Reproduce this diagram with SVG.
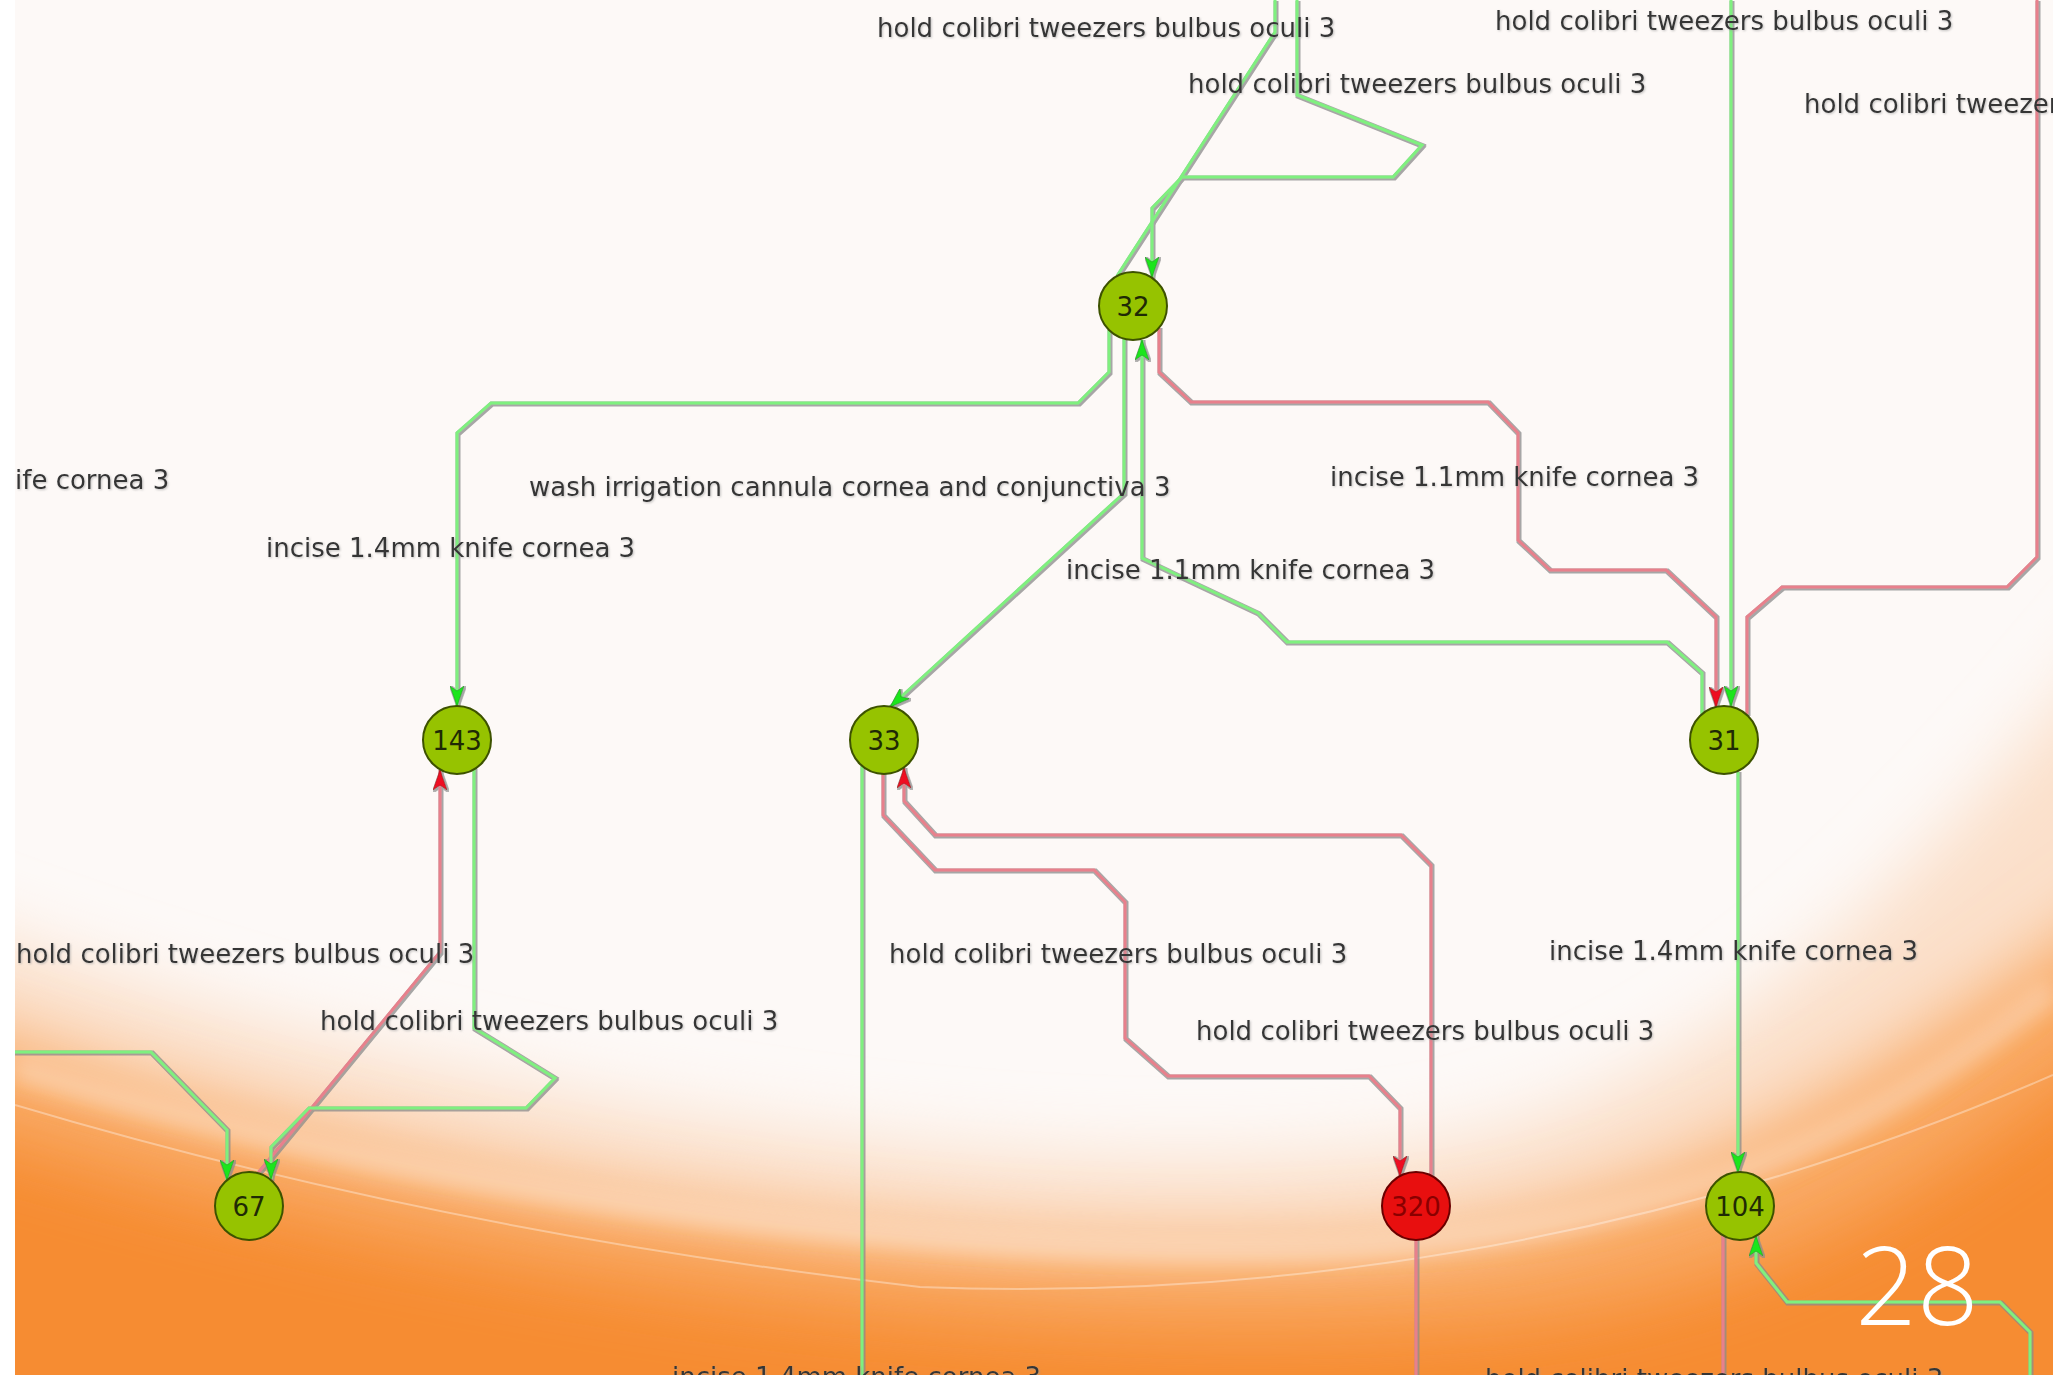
<svg xmlns="http://www.w3.org/2000/svg" width="2060" height="1375" viewBox="0 0 2060 1375">
<style>
.lbl{font-family:"DejaVu Sans","Liberation Sans",sans-serif;font-size:26px;fill:#363636}
.num{font-family:"DejaVu Sans","Liberation Sans",sans-serif;font-size:26px;fill:#1f2a05;text-anchor:middle}
.node{fill:#96c300;stroke:#3d5200;stroke-width:2}
.bad{fill:#e80f0f;stroke:#6a0000;stroke-width:2}
.g{fill:none;stroke:#7ff07f;stroke-width:3;stroke-linejoin:miter}
.r{fill:none;stroke:#e8808c;stroke-width:3;stroke-linejoin:miter}
.ga{marker-end:url(#ag)}
.ra{marker-end:url(#ar)}
</style>
<defs>
<marker id="ag" viewBox="0 0 20 14" refX="20" refY="7" markerWidth="20" markerHeight="14" markerUnits="userSpaceOnUse" orient="auto">
<path d="M0,0 L20,7 L0,14 L5,7 Z" fill="#1fe51f" stroke="#139913" stroke-width="0.6"/>
</marker>
<marker id="ar" viewBox="0 0 20 14" refX="20" refY="7" markerWidth="20" markerHeight="14" markerUnits="userSpaceOnUse" orient="auto">
<path d="M0,0 L20,7 L0,14 L5,7 Z" fill="#ee1122" stroke="#990010" stroke-width="0.6"/>
</marker>
<filter id="soft" filterUnits="userSpaceOnUse" x="-200" y="0" width="2500" height="1600">
<feGaussianBlur stdDeviation="35"/>
</filter>
<filter id="soft2" filterUnits="userSpaceOnUse" x="-200" y="0" width="2500" height="1600">
<feGaussianBlur stdDeviation="10"/>
</filter>
<filter id="halo" filterUnits="userSpaceOnUse" x="0" y="0" width="2060" height="1375">
<feMorphology in="SourceAlpha" operator="dilate" radius="1" result="d"/>
<feOffset in="d" dx="0.6" dy="1" result="o"/>
<feFlood flood-color="#8a8a8a" flood-opacity="0.75"/>
<feComposite in2="o" operator="in" result="s"/>
<feMerge><feMergeNode in="s"/><feMergeNode in="SourceGraphic"/></feMerge>
</filter>
<filter id="tsh" filterUnits="userSpaceOnUse" x="0" y="0" width="2060" height="1400">
<feGaussianBlur in="SourceAlpha" stdDeviation="1"/>
<feOffset dx="1" dy="1" result="b"/>
<feFlood flood-color="#999" flood-opacity="0.6"/>
<feComposite in2="b" operator="in" result="s"/>
<feMerge><feMergeNode in="s"/><feMergeNode in="SourceGraphic"/></feMerge>
</filter>
<clipPath id="slide"><rect x="15" y="0" width="2038" height="1375"/></clipPath>
</defs>

<rect x="0" y="0" width="2060" height="1375" fill="#ffffff"/>
<g id="background" clip-path="url(#slide)">
<rect x="15" y="0" width="2038" height="1375" fill="#fdf9f7"/>
<path d="M-100,900 C300,1060 900,1200 1400,1150 C1700,1110 1900,900 2150,600 L2150,1500 L-100,1500 Z" fill="#fbe0cb" filter="url(#soft)"/>
<path d="M-100,1000 C300,1160 900,1280 1400,1240 C1700,1210 1900,1060 2150,880 L2150,1500 L-100,1500 Z" fill="#f9a862" filter="url(#soft)"/>
<path d="M-100,1110 C400,1270 1000,1360 1500,1320 C1800,1290 1950,1170 2150,1020 L2150,1500 L-100,1500 Z" fill="#f68c32" filter="url(#soft)"/>
<path d="M15,1070 C400,1190 900,1260 1300,1250 C1700,1240 1900,1110 2053,990" fill="none" stroke="#ffffff" stroke-opacity="0.3" stroke-width="24" filter="url(#soft2)"/>
<path d="M15,1105 C300,1190 600,1250 920,1287 C1250,1300 1650,1250 2053,1075" fill="none" stroke="#ffffff" stroke-opacity="0.35" stroke-width="2"/>
</g>

<g id="connectors" filter="url(#halo)">
<path class="g ga" d="M1109,330 L1109,372 L1078,403 L491,403 L457,433 L457,706"/>
<path class="g ga" d="M1124,331 L1124,493 L890,707"/>
<path class="g ga" d="M1702,714 L1702,673 L1667,642 L1287,642 L1258,613 L1188,580 L1142,558 L1142,340"/>
<path class="r ra" d="M1159,328 L1159,372 L1191,402 L1488,402 L1518,433 L1518,540 L1550,570 L1666,570 L1716,617 L1716,707"/>
<path class="g ga" d="M1731,0 L1731,706"/>
<path class="r" d="M1747,714 L1747,617 L1782,587 L2007,587 L2037,557 L2037,0"/>
<path class="g ga" d="M1738,772 L1738,1172"/>
<path class="g ga" d="M1297,0 L1297,95 L1422,145 L1393,177 L1182,177 L1152,208 L1152,277"/>
<path class="g" d="M1117,276 L1275,32 L1275,0"/>
<path class="r ra" d="M883,774 L883,815 L935,870 L1094,870 L1125,902 L1125,1038 L1168,1076 L1369,1076 L1400,1108 L1400,1176"/>
<path class="r ra" d="M1431,1176 L1431,865 L1401,835 L935,835 L904,801 L904,768"/>
<path class="g" d="M862,766 L862,1375"/>
<path class="r" d="M1416,1240 L1416,1375"/>
<path class="r" d="M1723,1235 L1723,1375"/>
<path class="g ga" d="M2030,1375 L2030,1332 L2000,1302 L1787,1302 L1756,1263 L1756,1236"/>
<path class="r ra" d="M258,1173 L440,952 L440,770"/>
<path class="g ga" d="M474,769 L474,1028 L555,1078 L526,1108 L309,1108 L271,1147 L271,1179"/>
<path class="g ga" d="M15,1052 L151,1052 L227,1130 L227,1180"/>
</g>

<g id="labels" clip-path="url(#slide)" filter="url(#tsh)">
<text class="lbl" x="877" y="37">hold colibri tweezers bulbus oculi 3</text>
<text class="lbl" x="1495" y="30">hold colibri tweezers bulbus oculi 3</text>
<text class="lbl" x="1188" y="93">hold colibri tweezers bulbus oculi 3</text>
<text class="lbl" x="1804" y="113">hold colibri tweezer</text>
<text class="lbl" x="15" y="489">ife cornea 3</text>
<text class="lbl" x="529" y="496">wash irrigation cannula cornea and conjunctiva 3</text>
<text class="lbl" x="266" y="557">incise 1.4mm knife cornea 3</text>
<text class="lbl" x="1330" y="486">incise 1.1mm knife cornea 3</text>
<text class="lbl" x="1066" y="579">incise 1.1mm knife cornea 3</text>
<text class="lbl" x="16" y="963">hold colibri tweezers bulbus oculi 3</text>
<text class="lbl" x="320" y="1030">hold colibri tweezers bulbus oculi 3</text>
<text class="lbl" x="889" y="963">hold colibri tweezers bulbus oculi 3</text>
<text class="lbl" x="1196" y="1040">hold colibri tweezers bulbus oculi 3</text>
<text class="lbl" x="1549" y="960">incise 1.4mm knife cornea 3</text>
<text class="lbl" x="672" y="1386">incise 1.4mm knife cornea 3</text>
<text class="lbl" x="1485" y="1388">hold colibri tweezers bulbus oculi 3</text>
</g>

<g id="node-32"><circle class="node" cx="1133" cy="306" r="34"/><text class="num" x="1133" y="316">32</text></g>
<g id="node-143"><circle class="node" cx="457" cy="740" r="34"/><text class="num" x="457" y="750">143</text></g>
<g id="node-33"><circle class="node" cx="884" cy="740" r="34"/><text class="num" x="884" y="750">33</text></g>
<g id="node-31"><circle class="node" cx="1724" cy="740" r="34"/><text class="num" x="1724" y="750">31</text></g>
<g id="node-67"><circle class="node" cx="249" cy="1206" r="34"/><text class="num" x="249" y="1216">67</text></g>
<g id="node-320"><circle class="bad" cx="1416" cy="1206" r="34"/><text class="num" x="1416" y="1216" style="fill:#8a0000">320</text></g>
<g id="node-104"><circle class="node" cx="1740" cy="1206" r="34"/><text class="num" x="1740" y="1216">104</text></g>

<text id="slide-number" x="1917" y="1325" text-anchor="middle" style="font-family:'Open Sans','Liberation Sans',sans-serif;font-size:108px;font-weight:300;fill:#ffffff">28</text>
</svg>
